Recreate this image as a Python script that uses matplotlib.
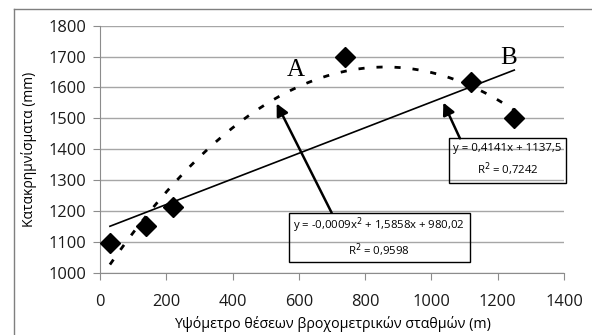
import numpy as np
import matplotlib.pyplot as plt
from matplotlib.patches import Rectangle
from matplotlib.lines import Line2D

plt.rcParams['font.family'] = ['Open Sans', 'DejaVu Sans']

# stations: altitude (m) and precipitation (mm)
altitude = [30, 140, 220, 740, 1120, 1250]
precip = [1097, 1151, 1214, 1697, 1618, 1502]

lin_label = "y = 0,4141x + 1137,5\nR$^2$ = 0,7242"
poly_label = "y = -0,0009x$^2$ + 1,5858x + 980,02\nR$^2$ = 0,9598"

# trendlines fitted to the stations
lin_coef = np.polyfit(altitude, precip, 1)
poly_coef = np.polyfit(altitude, precip, 2)

fig = plt.figure(figsize=(5.92, 3.35), dpi=100)
ax = fig.add_axes([0.1689, 0.186, 0.7838, 0.7373])

xs = np.linspace(min(altitude), max(altitude), 200)
ax.plot(xs, np.polyval(lin_coef, xs), color='black', lw=1.2, zorder=3)
ax.plot(xs, np.polyval(poly_coef, xs), color='black', lw=2,
        linestyle=(0, (2.2, 4.3)), zorder=3)
ax.plot(altitude, precip, 'D', color='black', ms=10, zorder=4)

ax.set_xlim(0, 1400)
ax.set_ylim(1000, 1800)
ax.set_xticks(range(0, 1401, 200))
ax.set_yticks(range(1000, 1801, 100))
ax.grid(axis='y', color='#a6a6a6', lw=1)
ax.set_axisbelow(True)
for s in ['top', 'right']:
    ax.spines[s].set_visible(False)
for s in ['left', 'bottom']:
    ax.spines[s].set_color('#8c8c8c')
ax.tick_params(axis='both', colors='#8c8c8c', labelcolor='#1a1a1a',
               labelsize=11.8, length=5, direction='out')
ax.tick_params(axis='y', pad=5)
ax.tick_params(axis='x', pad=10)
ax.set_ylabel("Κατακρημνίσματα (mm)", fontsize=10, labelpad=8)
ax.set_xlabel("Υψόμετρο θέσεων βροχομετρικών σταθμών (m)", fontsize=10.3,
              labelpad=5)

# equation boxes (transparent)
ax.add_patch(Rectangle((570, 1036), 546, 156, fill=False, ec='black',
                       lw=1, clip_on=False, zorder=5))
ax.text(843, 1114, poly_label, ha='center', va='center', fontsize=8.2,
        linespacing=1.5, zorder=5)
ax.add_patch(Rectangle((1054, 1289), 352, 148, fill=False, ec='black',
                       lw=1, clip_on=False, zorder=5))
ax.text(1230, 1363, lin_label, ha='center', va='center', fontsize=8.2,
        linespacing=1.5, zorder=5)

arrow = dict(arrowstyle='-|>', color='black', lw=1.8, mutation_scale=18,
             shrinkA=0, shrinkB=0)
ax.annotate('', xy=(533, 1548), xytext=(699, 1194), arrowprops=arrow)
ax.annotate('', xy=(1036, 1551), xytext=(1086, 1435), arrowprops=arrow)

ax.text(590, 1655, 'A', family=['Liberation Serif'], fontsize=18,
        ha='center', va='center')
ax.text(1234, 1695, 'B', family=['Liberation Serif'], fontsize=18,
        ha='center', va='center')

# outer chart border
fig.add_artist(Line2D([14 / 592, 14 / 592], [0, 1 - 9 / 335],
                      color='#7f7f7f', lw=1))
fig.add_artist(Line2D([14 / 592, 1], [1 - 9 / 335, 1 - 9 / 335],
                      color='#7f7f7f', lw=1))

fig.savefig('out.png', dpi=100)
